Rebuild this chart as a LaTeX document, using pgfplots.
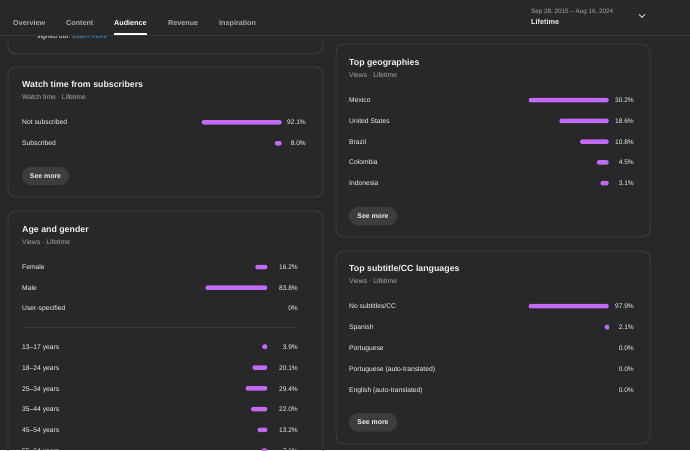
\documentclass[border=0pt]{standalone}
\usepackage{pgfplots}
\pgfplotsset{compat=1.18}
\usepackage{fontspec}
\setmainfont{Liberation Sans}
\definecolor{bg}{HTML}{282828}
\definecolor{cardb}{HTML}{414141}
\definecolor{txt}{HTML}{F1F1F1}
\definecolor{sub}{HTML}{AAAAAA}
\definecolor{barc}{HTML}{C26AF5}
\definecolor{btn}{HTML}{3D3D3D}
\definecolor{linkc}{HTML}{3EA6FF}
\definecolor{hline}{HTML}{3A3A3A}
\pgfplotsset{cardbars/.style={hide axis, scale only axis, xbar, bar width=4.5pt,
  y dir=reverse, x dir=reverse, xmin=0, enlargelimits=false, clip=false, anchor=center},
  barplot/.style={fill=barc, draw=none, rounded corners=2pt, restrict x to domain=0.001:1000},
  dotplot/.style={only marks, mark=*, mark size=2.1pt, color=barc, draw=none, fill=barc}}
\tikzset{
  ttl/.style={anchor=mid west, font=\fontsize{8.8}{10}\selectfont\bfseries, text=txt, inner sep=0pt},
  stl/.style={anchor=mid west, font=\fontsize{6.8}{8}\selectfont, text=sub, inner sep=0pt},
  rl/.style={anchor=mid west, font=\fontsize{6.75}{8}\selectfont, text=txt, inner sep=0pt},
  vl/.style={anchor=mid east, font=\fontsize{6.6}{8}\selectfont, text=txt, inner sep=0pt},
  tab/.style={anchor=mid west, font=\fontsize{7.2}{8}\selectfont\bfseries, text=sub, inner sep=0pt},
  bt/.style={font=\fontsize{6.9}{8}\selectfont\bfseries, text=txt, inner sep=0pt},
  card/.style={draw=cardb, line width=0.8pt, rounded corners=8pt}
}
\begin{document}
\begin{tikzpicture}
\useasboundingbox (0,0) rectangle (690pt,450pt);
\clip (0,0) rectangle (690pt,450pt);
\fill[bg] (0,0) rectangle (690pt,450pt);
\begin{scope}[x=1pt,y=-1pt,yshift=450pt]
% top-left partial card
\draw[card] (8,-20) rectangle (323,54);
\node[rl] at (37,36.3) {signed out. \textcolor{linkc}{Learn more}};
% header
\fill[bg] (0,-5) rectangle (690,35);
\draw[hline, line width=0.8pt] (0,35.3) -- (690,35.3);
\node[tab] at (13,22.5) {Overview};
\node[tab] at (66,22.5) {Content};
\node[tab, text=white] at (114,22.5) {Audience};
\node[tab] at (168,22.5) {Revenue};
\node[tab] at (219,22.5) {Inspiration};
\fill[white] (114,33.3) rectangle (146.5,35.5);
\node[anchor=mid west, font=\fontsize{6.3}{7}\selectfont, text=sub, inner sep=0pt] at (531,11) {Sep 28, 2015 – Aug 16, 2024};
\node[anchor=mid west, font=\fontsize{7.3}{8}\selectfont\bfseries, text=txt, inner sep=0pt] at (531,22.3) {Lifetime};
\draw[txt, line width=0.7pt] (639,14.3) -- (642,17.3) -- (645,14.3);
% watch time card
\draw[card] (8,67) rectangle (323,197);
\node[ttl] at (22,85) {Watch time from subscribers};
\node[stl] at (22,97.3) {Watch time · Lifetime};
\node[rl] at (22,122.3) {Not subscribed};
\node[rl] at (22,143.3) {Subscribed};
\node[vl] at (306,122.3) {92.1\%};
\node[vl] at (306,143.3) {8.0\%};
\fill[btn, rounded corners=9pt] (22,167) rectangle (69,185);
\node[bt] at (45.5,176) {See more};
% geographies card
\draw[card] (336,44) rectangle (650,237);
\node[ttl] at (349,62.5) {Top geographies};
\node[stl] at (349,74.7) {Views · Lifetime};
\node[rl] at (349,100) {Mexico};
\node[rl] at (349,120.7) {United States};
\node[rl] at (349,141.7) {Brazil};
\node[rl] at (349,162.3) {Colombia};
\node[rl] at (349,183.3) {Indonesia};
\node[vl] at (634,100) {30.2\%};
\node[vl] at (634,120.7) {18.6\%};
\node[vl] at (634,141.7) {10.8\%};
\node[vl] at (634,162.3) {4.5\%};
\node[vl] at (634,183.3) {3.1\%};
\fill[btn, rounded corners=9pt] (349,207) rectangle (397,225.3);
\node[bt] at (373,216.2) {See more};
% age and gender card
\draw[card] (8,211) rectangle (323,480);
\node[ttl] at (22,230) {Age and gender};
\node[stl] at (22,242) {Views · Lifetime};
\node[rl] at (22,267) {Female};
\node[rl] at (22,287.7) {Male};
\node[rl] at (22,308.3) {User-specified};
\node[vl] at (298,267) {16.2\%};
\node[vl] at (298,287.7) {83.8\%};
\node[vl] at (298,308.3) {0\%};
\draw[hline, line width=0.8pt] (22,327) -- (298,327);
\node[rl] at (22,346.7) {13–17 years};
\node[rl] at (22,367.7) {18–24 years};
\node[rl] at (22,388.7) {25–34 years};
\node[rl] at (22,409.3) {35–44 years};
\node[rl] at (22,430) {45–54 years};
\node[rl] at (22,450.7) {55–64 years};
\node[vl] at (298,346.7) {3.9\%};
\node[vl] at (298,367.7) {20.1\%};
\node[vl] at (298,388.7) {29.4\%};
\node[vl] at (298,409.3) {22.0\%};
\node[vl] at (298,430) {13.2\%};
\node[vl] at (298,450.7) {7.6\%};
% subtitle card
\draw[card] (336,251) rectangle (650,444);
\node[ttl] at (349,269) {Top subtitle/CC languages};
\node[stl] at (349,281.3) {Views · Lifetime};
\node[rl] at (349,306.3) {No subtitles/CC};
\node[rl] at (349,327.3) {Spanish};
\node[rl] at (349,348) {Portuguese};
\node[rl] at (349,369) {Portuguese (auto-translated)};
\node[rl] at (349,390) {English (auto-translated)};
\node[vl] at (634,306.3) {97.9\%};
\node[vl] at (634,327.3) {2.1\%};
\node[vl] at (634,348) {0.0\%};
\node[vl] at (634,369) {0.0\%};
\node[vl] at (634,390) {0.0\%};
\fill[btn, rounded corners=9pt] (349,413) rectangle (397,431.7);
\node[bt] at (373,422.3) {See more};
\end{scope}
% bars
\begin{axis}[cardbars, at={(241.7pt,317.2pt)}, width=80pt, height=42pt, xmax=92.1, ymin=0.5, ymax=2.5]
\addplot[barplot] coordinates {(92.1,1) (8.0,2)};
\end{axis}
\begin{axis}[cardbars, at={(568.7pt,308.3pt)}, width=80pt, height=103.75pt, xmax=30.2, ymin=0.5, ymax=5.5]
\addplot[barplot] coordinates {(30.2,1) (18.6,2) (10.8,3) (4.5,4) (3.1,5)};
\end{axis}
\begin{axis}[cardbars, at={(230.3pt,162.3pt)}, width=74pt, height=62pt, xmax=100, ymin=0.5, ymax=3.5]
\addplot[barplot] coordinates {(16.2,1) (83.8,2) (0,3)};
\end{axis}
\begin{axis}[cardbars, at={(230.3pt,51.3pt)}, width=74pt, height=124.8pt, xmax=100, ymin=0.5, ymax=6.5]
\addplot[barplot] coordinates {(3.9,1) (20.1,2) (29.4,3) (22.0,4) (13.2,5) (7.6,6)};
\addplot[dotplot] coordinates {(3.9,1)};
\end{axis}
\begin{axis}[cardbars, at={(568.7pt,102pt)}, width=80pt, height=104.5pt, xmax=97.9, ymin=0.5, ymax=5.5]
\addplot[barplot] coordinates {(97.9,1) (2.1,2) (0,3) (0,4) (0,5)};
\addplot[dotplot] coordinates {(2.1,2)};
\end{axis}
\end{tikzpicture}
\end{document}
